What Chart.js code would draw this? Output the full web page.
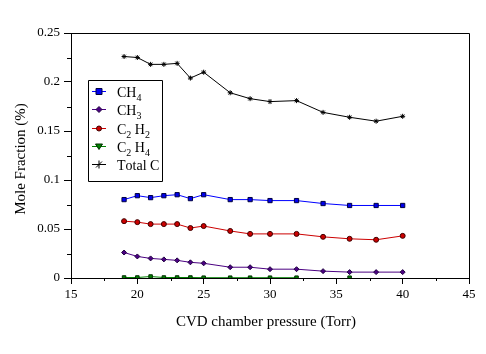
<!DOCTYPE html>
<html>
<head>
<meta charset="utf-8">
<script src="https://cdn.jsdelivr.net/npm/chart.js@4.4.1/dist/chart.umd.min.js"></script>
<style>
  body { margin: 0; background: #fff; }
  #wrap { width: 486px; height: 354px; }
</style>
</head>
<body>
<div id="wrap"><canvas id="myChart" width="486" height="354"></canvas></div>
<script>
var pressure = [19, 20, 21, 22, 23, 24, 25, 27, 28.5, 30, 32, 34, 36, 38, 40];
var ch4    = [0.080, 0.084, 0.082, 0.084, 0.085, 0.081, 0.085, 0.080, 0.080, 0.079, 0.079, 0.076, 0.074, 0.074, 0.074];
var ch3    = [0.026, 0.022, 0.020, 0.019, 0.018, 0.016, 0.015, 0.011, 0.011, 0.009, 0.009, 0.007, 0.006, 0.006, 0.006];
var c2h2   = [0.058, 0.057, 0.055, 0.055, 0.055, 0.051, 0.053, 0.048, 0.045, 0.045, 0.045, 0.042, 0.040, 0.039, 0.043];
var c2h4   = [0.0005, 0.0005, 0.0015, 0.0005, 0.0005, 0.0005, 0.0003, 0.0003, 0.0003, 0.0003, 0.0003, null, 0.0003, null, null];
var totalC = [0.226, 0.225, 0.218, 0.218, 0.219, 0.204, 0.210, 0.189, 0.183, 0.180, 0.181, 0.169, 0.164, 0.160, 0.165];

var seriesNames = ['CH4', 'CH3', 'C2 H2', 'C2 H4', 'Total C'];
var xTitle = 'CVD chamber pressure (Torr)';
var yTitle = 'Mole Fraction (%)';

function toPoints(values){
    var pts = [];
    for(var i = 0; i < pressure.length; i++){
        pts.push({x: pressure[i], y: values[i]});
    }
    return pts;
}

function makeSet(label, values, color, markerFill, markerEdge, style, radius){
    return {
        label: label,
        data: toPoints(values),
        borderColor: color,
        borderWidth: 1,
        backgroundColor: markerFill,
        pointBackgroundColor: markerFill,
        pointBorderColor: markerEdge,
        pointBorderWidth: 1,
        pointStyle: style,
        pointRadius: radius,
        tension: 0,
        spanGaps: false,
        fill: false
    };
}

var datasets = [
    makeSet(seriesNames[0], ch4, '#0000ff', '#0000ee', '#000040', 'rect', 3),
    makeSet(seriesNames[1], ch3, '#4b0082', '#4b0082', '#200040', 'rectRot', 2.5),
    makeSet(seriesNames[2], c2h2, '#cc0000', '#cc0000', '#400000', 'circle', 2.5),
    makeSet(seriesNames[3], c2h4, '#008000', '#008000', '#003000', 'rect', 2.5),
    makeSet(seriesNames[4], totalC, '#000000', '#000000', '#000000', 'star', 2.5)
];

var SERIF = "'Liberation Serif', 'Times New Roman', serif";

// text with digits drawn as subscripts
function drawSubText(ctx, text, x, y, size){
    for(var i = 0; i < text.length; i++){
        var c = text[i];
        if(/[0-9]/.test(c)){
            ctx.font = (size - 4) + 'px ' + SERIF;
            ctx.fillText(c, x, y + 4);
        }else{
            ctx.font = size + 'px ' + SERIF;
            ctx.fillText(c, x, y);
        }
        x += ctx.measureText(c).width;
    }
}

function drawMarker(ctx, ds, legendStyle, x, y){
    ctx.save();
    ctx.fillStyle = ds.pointBackgroundColor;
    ctx.strokeStyle = ds.pointBorderColor;
    ctx.lineWidth = 1;
    var r = ds.pointRadius;
    ctx.beginPath();
    if(legendStyle === 'rect'){
        ctx.rect(x - r, y - r, 2 * r, 2 * r);
        ctx.fill(); ctx.stroke();
    }else if(legendStyle === 'rectRot'){
        ctx.moveTo(x, y - r - 0.5); ctx.lineTo(x + r + 0.5, y); ctx.lineTo(x, y + r + 0.5); ctx.lineTo(x - r - 0.5, y); ctx.closePath();
        ctx.fill(); ctx.stroke();
    }else if(legendStyle === 'circle'){
        ctx.arc(x, y, r, 0, Math.PI * 2);
        ctx.fill(); ctx.stroke();
    }else if(legendStyle === 'triangleDown'){
        ctx.moveTo(x - 3.5, y - 2.5); ctx.lineTo(x + 3.5, y - 2.5); ctx.lineTo(x, y + 3); ctx.closePath();
        ctx.fill(); ctx.stroke();
    }else{
        ctx.strokeStyle = '#000';
        ctx.moveTo(x - 4, y); ctx.lineTo(x + 4, y);
        ctx.moveTo(x, y - 4); ctx.lineTo(x, y + 4);
        ctx.moveTo(x - 3, y + 3); ctx.lineTo(x + 3, y - 3);
        ctx.stroke();
    }
    ctx.restore();
}

var legendStyles = ['rect', 'rectRot', 'circle', 'triangleDown', 'star'];

var extras = {
    id: 'extras',
    afterDraw: function(chart){
        var ctx = chart.ctx;
        var a = chart.chartArea;
        var xs = chart.scales.x, ys = chart.scales.y;
        ctx.save();
        ctx.strokeStyle = '#000';
        ctx.lineWidth = 1;
        // top and right frame
        ctx.beginPath();
        ctx.moveTo(Math.round(a.left) + 0.5, Math.round(a.top) + 0.5);
        ctx.lineTo(Math.round(a.right) + 0.5, Math.round(a.top) + 0.5);
        ctx.lineTo(Math.round(a.right) + 0.5, Math.round(a.bottom) + 0.5);
        ctx.stroke();
        // minor ticks
        ctx.beginPath();
        var v, p;
        for(v = 17.5; v < 45; v += 5){
            p = Math.round(xs.getPixelForValue(v)) + 0.5;
            ctx.moveTo(p, a.bottom); ctx.lineTo(p, a.bottom + 3);
        }
        for(v = 0.025; v < 0.25; v += 0.05){
            p = Math.round(ys.getPixelForValue(v)) + 0.5;
            ctx.moveTo(a.left - 4, p); ctx.lineTo(a.left, p);
        }
        ctx.stroke();

        // axis titles
        ctx.fillStyle = '#000';
        ctx.font = '15px ' + SERIF;
        ctx.textAlign = 'center';
        ctx.textBaseline = 'middle';
        ctx.fillText(xTitle, (a.left + a.right) / 2 - 4, 322);
        ctx.save();
        ctx.translate(21, 159);
        ctx.rotate(-Math.PI / 2);
        ctx.fillText(yTitle, 0, 0);
        ctx.restore();

        // legend
        ctx.beginPath();
        ctx.rect(88.5, 80.5, 74, 101);
        ctx.stroke();
        ctx.textAlign = 'left';
        ctx.textBaseline = 'alphabetic';
        for(var i = 0; i < chart.data.datasets.length; i++){
            var ds = chart.data.datasets[i];
            var ly = Math.round(90.7 + i * 18.4) + 0.5;
            ctx.strokeStyle = ds.borderColor;
            ctx.beginPath();
            ctx.moveTo(92, ly); ctx.lineTo(106, ly);
            ctx.stroke();
            drawMarker(ctx, ds, legendStyles[i], 99, ly);
            ctx.fillStyle = '#000';
            drawSubText(ctx, ds.label, 117, ly + 5, 14);
        }
        ctx.restore();
    }
};

var ctx = document.getElementById('myChart').getContext('2d');
var myChart = new Chart(ctx, {
    type: 'line',
    data: { datasets: datasets },
    options: {
        responsive: false,
        animation: false,
        layout: { padding: { top: 33, right: 17, left: 0, bottom: 0 } },
        plugins: { legend: { display: false }, tooltip: { enabled: false } },
        scales: {
            x: {
                type: 'linear',
                min: 15, max: 45,
                afterFit: function(s){ s.height = 76; },
                ticks: { stepSize: 5, color: '#000', font: { family: SERIF, size: 13 }, padding: 3, maxRotation: 0 },
                grid: { drawOnChartArea: false, drawTicks: true, tickLength: 6, color: '#000' },
                border: { display: true, color: '#000', width: 1 }
            },
            y: {
                min: 0, max: 0.25,
                afterFit: function(s){ s.width = 71; },
                ticks: {
                    stepSize: 0.05, color: '#000', font: { family: SERIF, size: 13 }, padding: 4,
                    callback: function(v){ return String(Number(v.toFixed(3))); }
                },
                grid: { drawOnChartArea: false, drawTicks: true, tickLength: 7, color: '#000' },
                border: { display: true, color: '#000', width: 1 }
            }
        }
    },
    plugins: [extras]
});
</script>
</body>
</html>
